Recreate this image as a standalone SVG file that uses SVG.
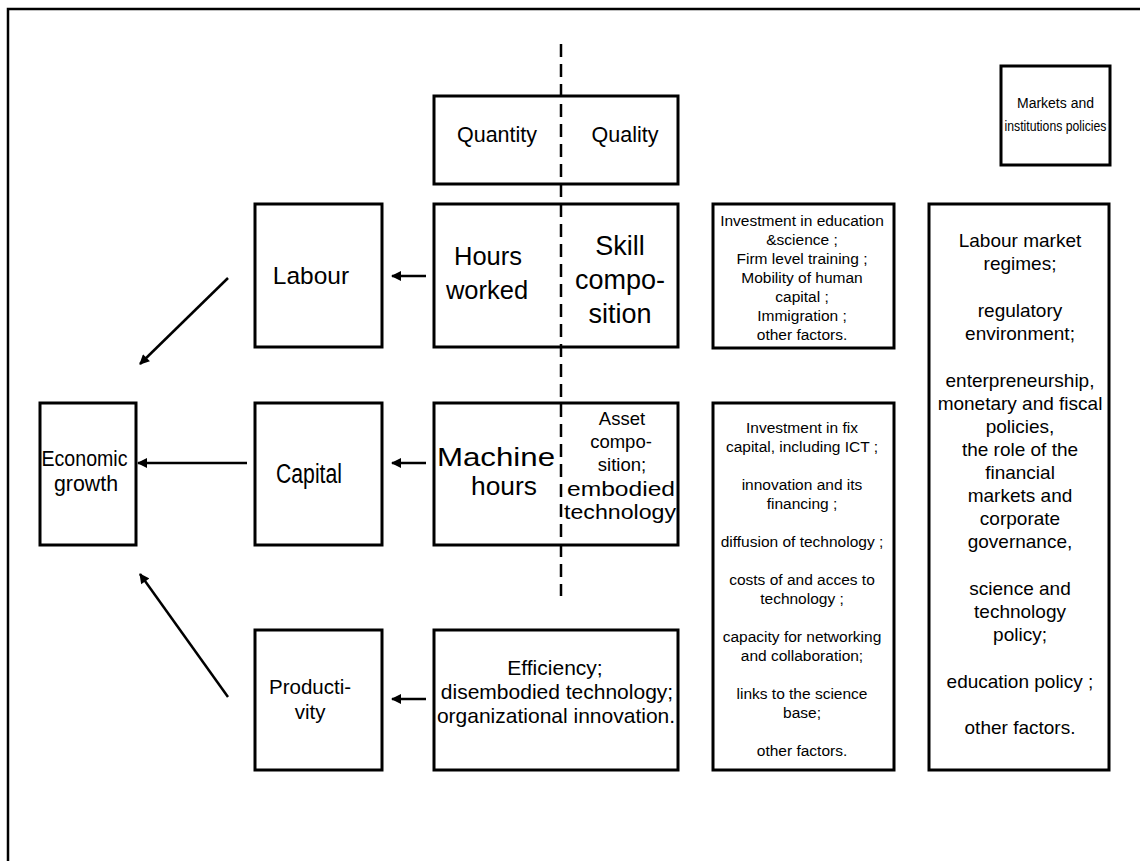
<svg xmlns="http://www.w3.org/2000/svg" width="1140" height="861" viewBox="0 0 1140 861">
  <style>
    .box { fill: #fff; stroke: #000; stroke-width: 3; }
    .frame { fill: none; stroke: #000; stroke-width: 2.5; }
    .t { font-family: "Liberation Sans", Arial, sans-serif; fill: #000; text-anchor: middle; }
    .arrow { fill: none; stroke: #000; stroke-width: 2.5; marker-end: url(#head); }
    .dash { fill: none; stroke: #000; stroke-width: 2.5; stroke-dasharray: 13 7; }
  </style>
  <defs>
    <marker id="head" viewBox="0 0 10 10" refX="9" refY="5" markerWidth="4.4" markerHeight="4" orient="auto" markerUnits="strokeWidth">
      <path d="M0,0 L10,5 L0,10 Z" fill="#000"/>
    </marker>
  </defs>

  <rect width="1140" height="861" fill="#fff"/>
  <!-- page frame -->
  <path class="frame" d="M8,861 V9 H1140"/>

  <!-- header box -->
  <g id="quantity-quality">
    <rect class="box" x="434" y="96" width="244" height="88"/>
    <text class="t" x="497" y="142" font-size="21.5">Quantity</text>
    <text class="t" x="625" y="142" font-size="21.5">Quality</text>
  </g>

  <g id="markets-header">
    <rect class="box" x="1001" y="66" width="109" height="99"/>
    <text class="t" x="1055.5" y="108" font-size="14">Markets and</text>
    <text class="t" x="1055.5" y="131" font-size="14" textLength="102" lengthAdjust="spacingAndGlyphs">institutions policies</text>
  </g>

  <!-- labour row -->
  <g id="labour">
    <rect class="box" x="255" y="204" width="127" height="143"/>
    <text class="t" x="311" y="284" font-size="24.5">Labour</text>
  </g>
  <g id="labour-inputs">
    <rect class="box" x="434" y="204" width="244" height="143"/>
    <text class="t" x="488" y="265" font-size="25.5">Hours</text>
    <text class="t" x="487" y="299" font-size="25.5">worked</text>
    <text class="t" x="620" y="255" font-size="27">Skill</text>
    <text class="t" x="620" y="289" font-size="27">compo-</text>
    <text class="t" x="620" y="323" font-size="27">sition</text>
  </g>
  <g id="labour-factors">
    <rect class="box" x="713" y="204" width="181" height="144"/>
    <g class="t" font-size="15.5">
      <text x="802" y="226">Investment in education</text>
      <text x="802" y="245">&amp;science ;</text>
      <text x="802" y="264">Firm level training ;</text>
      <text x="802" y="283">Mobility of human</text>
      <text x="802" y="302">capital ;</text>
      <text x="802" y="321">Immigration ;</text>
      <text x="802" y="340">other factors.</text>
    </g>
  </g>

  <!-- capital row -->
  <g id="economic-growth">
    <rect class="box" x="40" y="403" width="96" height="142"/>
    <text class="t" x="84.5" y="466" font-size="22" textLength="86" lengthAdjust="spacingAndGlyphs">Economic</text>
    <text class="t" x="86" y="491" font-size="22" textLength="64" lengthAdjust="spacingAndGlyphs">growth</text>
  </g>
  <g id="capital">
    <rect class="box" x="255" y="403" width="127" height="142"/>
    <text class="t" x="309" y="483" font-size="27" textLength="66" lengthAdjust="spacingAndGlyphs">Capital</text>
  </g>
  <g id="capital-inputs">
    <rect class="box" x="434" y="403" width="244" height="142"/>
    <text class="t" x="496" y="466" font-size="25.5" textLength="118" lengthAdjust="spacingAndGlyphs">Machine</text>
    <text class="t" x="504" y="495" font-size="25.5" textLength="66" lengthAdjust="spacingAndGlyphs">hours</text>
    <g class="t" font-size="18.5">
      <text x="622" y="425">Asset</text>
      <text x="621" y="448">compo-</text>
      <text x="622" y="471">sition;</text>
      <text x="621" y="496" font-size="20" textLength="108" lengthAdjust="spacingAndGlyphs">embodied</text>
      <text x="620" y="519" font-size="20" textLength="112" lengthAdjust="spacingAndGlyphs">technology</text>
    </g>
  </g>
  <g id="capital-factors">
    <rect class="box" x="713" y="403" width="181" height="367"/>
    <g class="t" font-size="15.5">
      <text x="802" y="433">Investment in fix</text>
      <text x="802" y="452">capital, including ICT ;</text>
      <text x="802" y="490">innovation and its</text>
      <text x="802" y="509">financing ;</text>
      <text x="802" y="547">diffusion of technology ;</text>
      <text x="802" y="585">costs of and acces to</text>
      <text x="802" y="604">technology ;</text>
      <text x="802" y="642">capacity for networking</text>
      <text x="802" y="661">and collaboration;</text>
      <text x="802" y="699">links to the science</text>
      <text x="802" y="718">base;</text>
      <text x="802" y="756">other factors.</text>
    </g>
  </g>

  <!-- productivity row -->
  <g id="productivity">
    <rect class="box" x="255" y="630" width="127" height="140"/>
    <text class="t" x="310" y="694" font-size="20.5">Producti-</text>
    <text class="t" x="310" y="719" font-size="20.5">vity</text>
  </g>
  <g id="productivity-inputs">
    <rect class="box" x="434" y="630" width="244" height="140"/>
    <g class="t" font-size="21">
      <text x="555" y="675">Efficiency;</text>
      <text x="557" y="699">disembodied technology;</text>
      <text x="556" y="723">organizational innovation.</text>
    </g>
  </g>

  <!-- policy column -->
  <g id="policies">
    <rect class="box" x="929" y="204" width="180" height="566"/>
    <g class="t" font-size="19">
      <text x="1020" y="247">Labour market</text>
      <text x="1020" y="270">regimes;</text>
      <text x="1020" y="317">regulatory</text>
      <text x="1020" y="340">environment;</text>
      <text x="1020" y="387">enterpreneurship,</text>
      <text x="1020" y="410">monetary and fiscal</text>
      <text x="1020" y="433">policies,</text>
      <text x="1020" y="456">the role of the</text>
      <text x="1020" y="479">financial</text>
      <text x="1020" y="502">markets and</text>
      <text x="1020" y="525">corporate</text>
      <text x="1020" y="548">governance,</text>
      <text x="1020" y="595">science and</text>
      <text x="1020" y="618">technology</text>
      <text x="1020" y="641">policy;</text>
      <text x="1020" y="688">education policy ;</text>
      <text x="1020" y="734">other factors.</text>
    </g>
  </g>

  <!-- connectors -->
  <g id="connectors">
    <line class="dash" x1="561" y1="44" x2="561" y2="596"/>
    <line class="arrow" x1="426" y1="276" x2="392" y2="276"/>
    <line class="arrow" x1="426" y1="463" x2="392" y2="463"/>
    <line class="arrow" x1="247" y1="463" x2="138" y2="463"/>
    <line class="arrow" x1="426" y1="699" x2="392" y2="699"/>
    <line class="arrow" x1="228" y1="278" x2="140" y2="364"/>
    <line class="arrow" x1="228" y1="697" x2="140" y2="574"/>
  </g>
</svg>
